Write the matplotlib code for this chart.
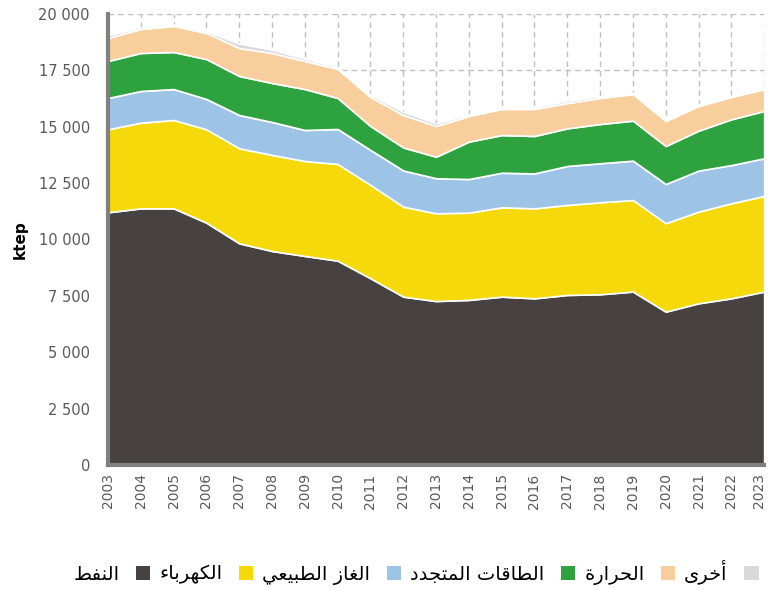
import numpy as np
import matplotlib.pyplot as plt
import matplotlib.transforms as mtransforms
from matplotlib.patches import Patch
from matplotlib.ticker import FuncFormatter

years = list(range(2003, 2024))
oil = [11205, 11380, 11380, 10745, 9830, 9490, 9270, 9060, 8280, 7465, 7270,
       7320, 7465, 7390, 7540, 7570, 7690, 6800, 7170, 7390, 7690]
electricity = [3680, 3800, 3920, 4140, 4215, 4260, 4210, 4290, 4140, 3990, 3890,
               3870, 3960, 3990, 3990, 4080, 4060, 3920, 4065, 4215, 4240]
gas = [1390, 1405, 1370, 1345, 1475, 1460, 1375, 1550, 1550, 1605, 1555,
       1490, 1535, 1550, 1730, 1730, 1745, 1740, 1820, 1695, 1670]
renewables = [1640, 1685, 1645, 1770, 1730, 1730, 1815, 1375, 1060, 1020, 955,
              1660, 1670, 1660, 1670, 1740, 1775, 1685, 1770, 2030, 2100]
heat = [1020, 1065, 1155, 1160, 1240, 1330, 1245, 1285, 1290, 1440, 1360,
        1135, 1160, 1200, 1120, 1155, 1180, 1110, 1095, 990, 970]
other = [120, 80, 60, 80, 200, 150, 100, 80, 100, 150, 120,
         80, 60, 80, 100, 80, 60, 60, 60, 60, 60]

labels = ['النفط', 'الكهرباء', 'الغاز الطبيعي', 'الطاقات المتجدد', 'الحرارة', 'أخرى']
colors = ['#474142', '#f5d90a', '#9dc3e6', '#2ea23e', '#f8ce9c', '#d9d9d9']

# matplotlib has no arabic shaping, so map letters to presentation forms by hand
FORMS = {
    'ء': ('\uFE80',),
    'أ': ('\uFE83', '\uFE84'),
    'ا': ('\uFE8D', '\uFE8E'),
    'ب': ('\uFE8F', '\uFE90', '\uFE91', '\uFE92'),
    'ة': ('\uFE93', '\uFE94'),
    'ت': ('\uFE95', '\uFE96', '\uFE97', '\uFE98'),
    'ج': ('\uFE9D', '\uFE9E', '\uFE9F', '\uFEA0'),
    'ح': ('\uFEA1', '\uFEA2', '\uFEA3', '\uFEA4'),
    'خ': ('\uFEA5', '\uFEA6', '\uFEA7', '\uFEA8'),
    'د': ('\uFEA9', '\uFEAA'),
    'ر': ('\uFEAD', '\uFEAE'),
    'ز': ('\uFEAF', '\uFEB0'),
    'ط': ('\uFEC1', '\uFEC2', '\uFEC3', '\uFEC4'),
    'ع': ('\uFEC9', '\uFECA', '\uFECB', '\uFECC'),
    'غ': ('\uFECD', '\uFECE', '\uFECF', '\uFED0'),
    'ف': ('\uFED1', '\uFED2', '\uFED3', '\uFED4'),
    'ق': ('\uFED5', '\uFED6', '\uFED7', '\uFED8'),
    'ك': ('\uFED9', '\uFEDA', '\uFEDB', '\uFEDC'),
    'ل': ('\uFEDD', '\uFEDE', '\uFEDF', '\uFEE0'),
    'م': ('\uFEE1', '\uFEE2', '\uFEE3', '\uFEE4'),
    'ن': ('\uFEE5', '\uFEE6', '\uFEE7', '\uFEE8'),
    'ه': ('\uFEE9', '\uFEEA', '\uFEEB', '\uFEEC'),
    'ى': ('\uFEEF', '\uFEF0'),
    'ي': ('\uFEF1', '\uFEF2', '\uFEF3', '\uFEF4'),
}
LAM_ALEF = {'ا': ('\uFEFB', '\uFEFC'), 'أ': ('\uFEF7', '\uFEF8')}


def shape(text):
    out = []
    i = 0
    n = len(text)
    while i < n:
        c = text[i]
        if c not in FORMS:
            out.append(c)
            i += 1
            continue
        prev = text[i - 1] if i > 0 else ''
        prev_join = prev in FORMS and len(FORMS[prev]) == 4
        if c == 'ل' and i + 1 < n and text[i + 1] in LAM_ALEF:
            out.append(LAM_ALEF[text[i + 1]][1 if prev_join else 0])
            i += 2
            continue
        nxt = text[i + 1] if i + 1 < n else ''
        f = FORMS[c]
        next_join = len(f) == 4 and nxt in FORMS and len(FORMS[nxt]) > 1
        if len(f) == 1:
            out.append(f[0])
        elif prev_join and next_join:
            out.append(f[3])
        elif prev_join:
            out.append(f[1])
        elif next_join:
            out.append(f[2])
        else:
            out.append(f[0])
        i += 1
    return ''.join(out)[::-1]


fig = plt.figure(figsize=(7.68, 5.9), dpi=100)
ax = fig.add_axes([0.1406, 0.2119, 0.8544, 0.7644])

ax.stackplot(years, oil, electricity, gas, renewables, heat, other,
             colors=colors, edgecolor='white', linewidth=1.2)

ax.set_xlim(2003, 2023)
ax.set_ylim(0, 20000)
ax.set_yticks(np.arange(0, 20001, 2500))
ax.set_xticks(years)
ax.set_xticklabels([str(y) for y in years], rotation=90)
ax.yaxis.set_major_formatter(FuncFormatter(lambda v, p: f'{int(v):,}'.replace(',', ' ')))
ax.tick_params(length=0, colors='#595959')
ax.tick_params(axis='y', labelsize=10.5, pad=13)
ax.tick_params(axis='x', labelsize=10, pad=6)

# nudge the last year label so it stays on the canvas
last = ax.get_xticklabels()[-1]
last.set_transform(last.get_transform() +
                   mtransforms.ScaledTranslation(-5 / 100, 0, fig.dpi_scale_trans))

ax.grid(True, linestyle=(0, (4, 3)), color='#bfbfbf', linewidth=1)
ax.set_axisbelow(True)

for s in ['top', 'right']:
    ax.spines[s].set_visible(False)
for s in ['left', 'bottom']:
    ax.spines[s].set_color('#808080')
    ax.spines[s].set_linewidth(3)

ax.set_ylabel('ktep', fontsize=11, fontweight='bold', color='black', labelpad=8)

handles = [Patch(facecolor=c, edgecolor='none') for c in colors]
fig.legend(handles, [shape(l) for l in labels], loc='center', ncol=6,
           bbox_to_anchor=(0.5417, 0.0305), frameon=False, markerfirst=False,
           handlelength=0.75, handleheight=0.75, handletextpad=0.85,
           columnspacing=0.45, prop={'family': 'DejaVu Sans', 'size': 14})

fig.savefig('out.png', dpi=100)
